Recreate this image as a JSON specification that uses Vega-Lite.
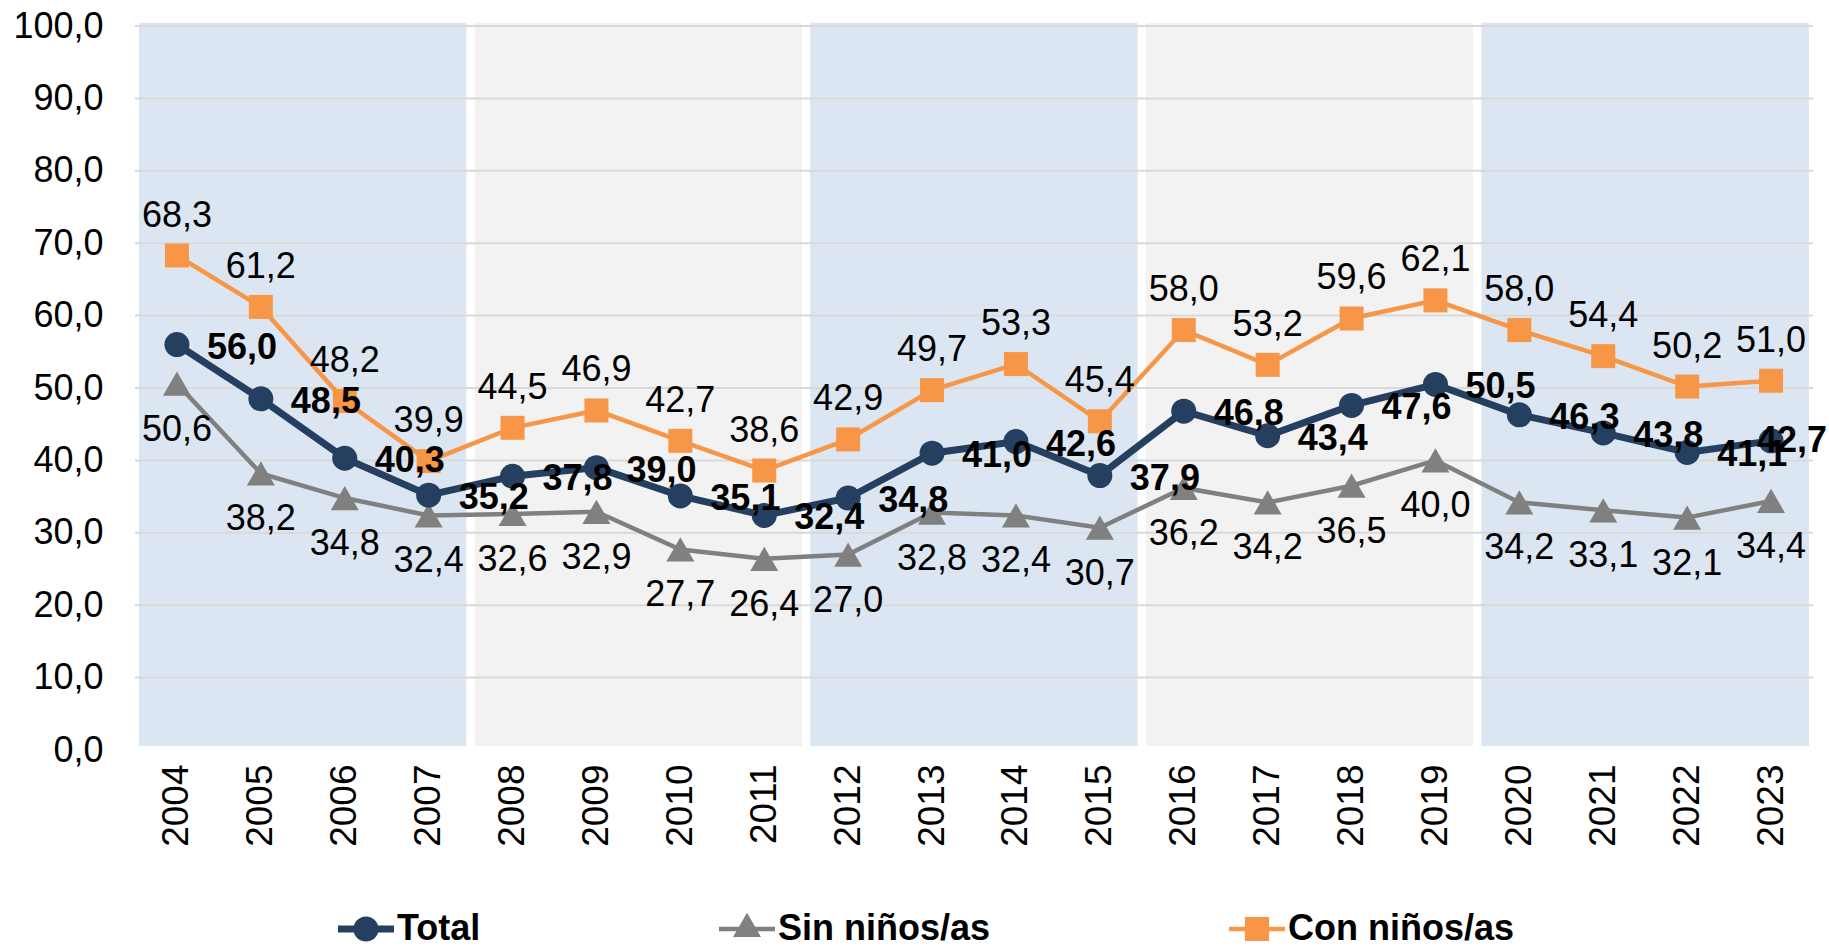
{
  "$schema": "https://vega.github.io/schema/vega-lite/v6.json",
  "width": 1678,
  "height": 724,
  "autosize": {"type": "none"},
  "padding": {"left": 135, "top": 26, "right": 16, "bottom": 202},
  "background": "white",
  "config": {
    "locale": {"number": {"decimal": ",", "thousands": ".", "grouping": [3], "currency": ["", " €"]}},
    "font": "Liberation Sans",
    "view": {"stroke": "#E3E3E3", "strokeWidth": 2},
    "axis": {"grid": false, "ticks": false, "labelColor": "#000000", "labelFont": "Liberation Sans"},
    "axisY": {"domain": false, "labelFontSize": 36, "labelPadding": 32},
    "axisX": {"domain": true, "domainColor": "#C8C8C8", "domainWidth": 3, "labelFontSize": 37, "labelAngle": -90, "labelPadding": 14, "labelOverlap": false, "labelFlush": false}
  },
  "datasets": {
    "serie": [
      {"anio": 2004, "grupo": "Total", "valor": 56.0},
      {"anio": 2005, "grupo": "Total", "valor": 48.5},
      {"anio": 2006, "grupo": "Total", "valor": 40.3},
      {"anio": 2007, "grupo": "Total", "valor": 35.2},
      {"anio": 2008, "grupo": "Total", "valor": 37.8},
      {"anio": 2009, "grupo": "Total", "valor": 39.0},
      {"anio": 2010, "grupo": "Total", "valor": 35.1},
      {"anio": 2011, "grupo": "Total", "valor": 32.4},
      {"anio": 2012, "grupo": "Total", "valor": 34.8},
      {"anio": 2013, "grupo": "Total", "valor": 41.0},
      {"anio": 2014, "grupo": "Total", "valor": 42.6},
      {"anio": 2015, "grupo": "Total", "valor": 37.9},
      {"anio": 2016, "grupo": "Total", "valor": 46.8},
      {"anio": 2017, "grupo": "Total", "valor": 43.4},
      {"anio": 2018, "grupo": "Total", "valor": 47.6},
      {"anio": 2019, "grupo": "Total", "valor": 50.5},
      {"anio": 2020, "grupo": "Total", "valor": 46.3},
      {"anio": 2021, "grupo": "Total", "valor": 43.8},
      {"anio": 2022, "grupo": "Total", "valor": 41.1},
      {"anio": 2023, "grupo": "Total", "valor": 42.7},
      {"anio": 2004, "grupo": "Sin niños/as", "valor": 50.6},
      {"anio": 2005, "grupo": "Sin niños/as", "valor": 38.2},
      {"anio": 2006, "grupo": "Sin niños/as", "valor": 34.8},
      {"anio": 2007, "grupo": "Sin niños/as", "valor": 32.4},
      {"anio": 2008, "grupo": "Sin niños/as", "valor": 32.6},
      {"anio": 2009, "grupo": "Sin niños/as", "valor": 32.9},
      {"anio": 2010, "grupo": "Sin niños/as", "valor": 27.7},
      {"anio": 2011, "grupo": "Sin niños/as", "valor": 26.4},
      {"anio": 2012, "grupo": "Sin niños/as", "valor": 27.0},
      {"anio": 2013, "grupo": "Sin niños/as", "valor": 32.8},
      {"anio": 2014, "grupo": "Sin niños/as", "valor": 32.4},
      {"anio": 2015, "grupo": "Sin niños/as", "valor": 30.7},
      {"anio": 2016, "grupo": "Sin niños/as", "valor": 36.2},
      {"anio": 2017, "grupo": "Sin niños/as", "valor": 34.2},
      {"anio": 2018, "grupo": "Sin niños/as", "valor": 36.5},
      {"anio": 2019, "grupo": "Sin niños/as", "valor": 40.0},
      {"anio": 2020, "grupo": "Sin niños/as", "valor": 34.2},
      {"anio": 2021, "grupo": "Sin niños/as", "valor": 33.1},
      {"anio": 2022, "grupo": "Sin niños/as", "valor": 32.1},
      {"anio": 2023, "grupo": "Sin niños/as", "valor": 34.4},
      {"anio": 2004, "grupo": "Con niños/as", "valor": 68.3},
      {"anio": 2005, "grupo": "Con niños/as", "valor": 61.2},
      {"anio": 2006, "grupo": "Con niños/as", "valor": 48.2},
      {"anio": 2007, "grupo": "Con niños/as", "valor": 39.9},
      {"anio": 2008, "grupo": "Con niños/as", "valor": 44.5},
      {"anio": 2009, "grupo": "Con niños/as", "valor": 46.9},
      {"anio": 2010, "grupo": "Con niños/as", "valor": 42.7},
      {"anio": 2011, "grupo": "Con niños/as", "valor": 38.6},
      {"anio": 2012, "grupo": "Con niños/as", "valor": 42.9},
      {"anio": 2013, "grupo": "Con niños/as", "valor": 49.7},
      {"anio": 2014, "grupo": "Con niños/as", "valor": 53.3},
      {"anio": 2015, "grupo": "Con niños/as", "valor": 45.4},
      {"anio": 2016, "grupo": "Con niños/as", "valor": 58.0},
      {"anio": 2017, "grupo": "Con niños/as", "valor": 53.2},
      {"anio": 2018, "grupo": "Con niños/as", "valor": 59.6},
      {"anio": 2019, "grupo": "Con niños/as", "valor": 62.1},
      {"anio": 2020, "grupo": "Con niños/as", "valor": 58.0},
      {"anio": 2021, "grupo": "Con niños/as", "valor": 54.4},
      {"anio": 2022, "grupo": "Con niños/as", "valor": 50.2},
      {"anio": 2023, "grupo": "Con niños/as", "valor": 51.0}
    ],
    "bandas": [
      {"inicio": 2003.5, "fin": 2007.5, "tipo": "azul"},
      {"inicio": 2007.5, "fin": 2011.5, "tipo": "gris"},
      {"inicio": 2011.5, "fin": 2015.5, "tipo": "azul"},
      {"inicio": 2015.5, "fin": 2019.5, "tipo": "gris"},
      {"inicio": 2019.5, "fin": 2023.5, "tipo": "azul"}
    ],
    "rejilla": [
      {"v": 10}, {"v": 20}, {"v": 30}, {"v": 40}, {"v": 50},
      {"v": 60}, {"v": 70}, {"v": 80}, {"v": 90}, {"v": 100}
    ]
  },
  "layer": [
    {
      "data": {"name": "bandas"},
      "mark": {"type": "rect", "stroke": "white", "strokeWidth": 8},
      "encoding": {
        "x": {"field": "inicio", "type": "quantitative", "title": null, "scale": {"domain": [2003.5, 2023.5], "nice": false, "zero": false},
              "axis": {"values": [2004, 2005, 2006, 2007, 2008, 2009, 2010, 2011, 2012, 2013, 2014, 2015, 2016, 2017, 2018, 2019, 2020, 2021, 2022, 2023], "format": "d"}},
        "x2": {"field": "fin"},
        "y": {"datum": 0, "type": "quantitative", "title": null, "scale": {"domain": [0, 100], "nice": false, "zero": true},
              "axis": {"values": [0, 10, 20, 30, 40, 50, 60, 70, 80, 90, 100], "format": ".1f"}},
        "y2": {"datum": 101},
        "fill": {"field": "tipo", "type": "nominal", "scale": {"domain": ["azul", "gris"], "range": ["#DCE6F2", "#F2F2F2"]}, "legend": null}
      }
    },
    {
      "data": {"name": "rejilla"},
      "mark": {"type": "rule", "color": "#D9D9D9", "strokeWidth": 2},
      "encoding": {
        "y": {"field": "v", "type": "quantitative", "title": null}
      }
    },
    {
      "data": {"name": "serie"},
      "transform": [{"filter": "datum.grupo === 'Sin niños/as'"}],
      "mark": {"type": "line", "color": "#808080", "strokeWidth": 4.5},
      "encoding": {
        "x": {"field": "anio", "type": "quantitative", "title": null},
        "y": {"field": "valor", "type": "quantitative", "title": null}
      }
    },
    {
      "data": {"name": "serie"},
      "transform": [{"filter": "datum.grupo === 'Con niños/as'"}],
      "mark": {"type": "line", "color": "#F79646", "strokeWidth": 4.5},
      "encoding": {
        "x": {"field": "anio", "type": "quantitative", "title": null},
        "y": {"field": "valor", "type": "quantitative", "title": null}
      }
    },
    {
      "data": {"name": "serie"},
      "transform": [{"filter": "datum.grupo === 'Total'"}],
      "mark": {"type": "line", "color": "#243F60", "strokeWidth": 7},
      "encoding": {
        "x": {"field": "anio", "type": "quantitative", "title": null},
        "y": {"field": "valor", "type": "quantitative", "title": null}
      }
    },
    {
      "data": {"name": "serie"},
      "transform": [{"filter": "datum.grupo === 'Sin niños/as'"}],
      "mark": {"type": "point", "shape": "triangle-up", "filled": true, "color": "#808080", "size": 784, "opacity": 1},
      "encoding": {
        "x": {"field": "anio", "type": "quantitative", "title": null},
        "y": {"field": "valor", "type": "quantitative", "title": null}
      }
    },
    {
      "data": {"name": "serie"},
      "transform": [{"filter": "datum.grupo === 'Con niños/as'"}],
      "mark": {"type": "point", "shape": "square", "filled": true, "color": "#F79646", "size": 576, "opacity": 1},
      "encoding": {
        "x": {"field": "anio", "type": "quantitative", "title": null},
        "y": {"field": "valor", "type": "quantitative", "title": null}
      }
    },
    {
      "data": {"name": "serie"},
      "transform": [{"filter": "datum.grupo === 'Total'"}],
      "mark": {"type": "point", "shape": "circle", "filled": true, "color": "#243F60", "size": 625, "opacity": 1},
      "encoding": {
        "x": {"field": "anio", "type": "quantitative", "title": null},
        "y": {"field": "valor", "type": "quantitative", "title": null}
      }
    },
    {
      "data": {"name": "serie"},
      "mark": {"type": "point", "filled": true, "opacity": 0, "size": 10},
      "encoding": {
        "x": {"field": "anio", "type": "quantitative", "title": null},
        "y": {"field": "valor", "type": "quantitative", "title": null},
        "color": {
          "field": "grupo", "type": "nominal",
          "scale": {"domain": ["Total", "Sin niños/as", "Con niños/as"], "range": ["#243F60", "#808080", "#F79646"]},
          "legend": {
            "title": null, "orient": "none", "legendX": 203, "legendY": 875, "direction": "horizontal",
            "labelFontSize": 36, "labelFontWeight": "bold", "labelColor": "#000000", "labelFont": "Liberation Sans", "labelLimit": 500,
            "symbolSize": 3136, "symbolOpacity": 1, "symbolStrokeWidth": 0, "columnPadding": 238, "labelOffset": 3
          }
        },
        "shape": {
          "field": "grupo", "type": "nominal",
          "scale": {"domain": ["Total", "Sin niños/as", "Con niños/as"], "range": [
            "M-1,-0.125H1V0.125H-1Z M-0.45,0A0.45,0.45 0 1,1 0.45,0A0.45,0.45 0 1,1 -0.45,0Z",
            "M-1,-0.08H1V0.08H-1Z M0,-0.58L0.5,0.29L-0.5,0.29Z",
            "M-1,-0.08H1V0.08H-1Z M-0.43,-0.43H0.43V0.43H-0.43Z"
          ]},
          "legend": {
            "title": null, "orient": "none", "legendX": 203, "legendY": 875, "direction": "horizontal",
            "labelFontSize": 36, "labelFontWeight": "bold", "labelColor": "#000000", "labelFont": "Liberation Sans", "labelLimit": 500,
            "symbolSize": 3136, "symbolOpacity": 1, "symbolStrokeWidth": 0, "columnPadding": 238, "labelOffset": 3
          }
        }
      }
    },
    {
      "data": {"name": "serie"},
      "transform": [{"filter": "datum.grupo === 'Sin niños/as'"}],
      "mark": {"type": "text", "fontSize": 36, "color": "#000000", "align": "center", "baseline": "middle", "dy": 46},
      "encoding": {
        "x": {"field": "anio", "type": "quantitative", "title": null},
        "y": {"field": "valor", "type": "quantitative", "title": null},
        "text": {"field": "valor", "type": "quantitative", "format": ".1f"}
      }
    },
    {
      "data": {"name": "serie"},
      "transform": [{"filter": "datum.grupo === 'Con niños/as'"}],
      "mark": {"type": "text", "fontSize": 36, "color": "#000000", "align": "center", "baseline": "middle", "dy": -40},
      "encoding": {
        "x": {"field": "anio", "type": "quantitative", "title": null},
        "y": {"field": "valor", "type": "quantitative", "title": null},
        "text": {"field": "valor", "type": "quantitative", "format": ".1f"}
      }
    },
    {
      "data": {"name": "serie"},
      "transform": [{"filter": "datum.grupo === 'Total' && datum.anio < 2023"}],
      "mark": {"type": "text", "fontSize": 36, "fontWeight": "bold", "color": "#000000", "align": "left", "baseline": "middle", "dx": 30, "dy": 3},
      "encoding": {
        "x": {"field": "anio", "type": "quantitative", "title": null},
        "y": {"field": "valor", "type": "quantitative", "title": null},
        "text": {"field": "valor", "type": "quantitative", "format": ".1f"}
      }
    },
    {
      "data": {"name": "serie"},
      "transform": [{"filter": "datum.grupo === 'Total' && datum.anio === 2023"}],
      "mark": {"type": "text", "fontSize": 36, "fontWeight": "bold", "color": "#000000", "align": "left", "baseline": "middle", "dx": -14, "dy": 0},
      "encoding": {
        "x": {"field": "anio", "type": "quantitative", "title": null},
        "y": {"field": "valor", "type": "quantitative", "title": null},
        "text": {"field": "valor", "type": "quantitative", "format": ".1f"}
      }
    }
  ]
}
